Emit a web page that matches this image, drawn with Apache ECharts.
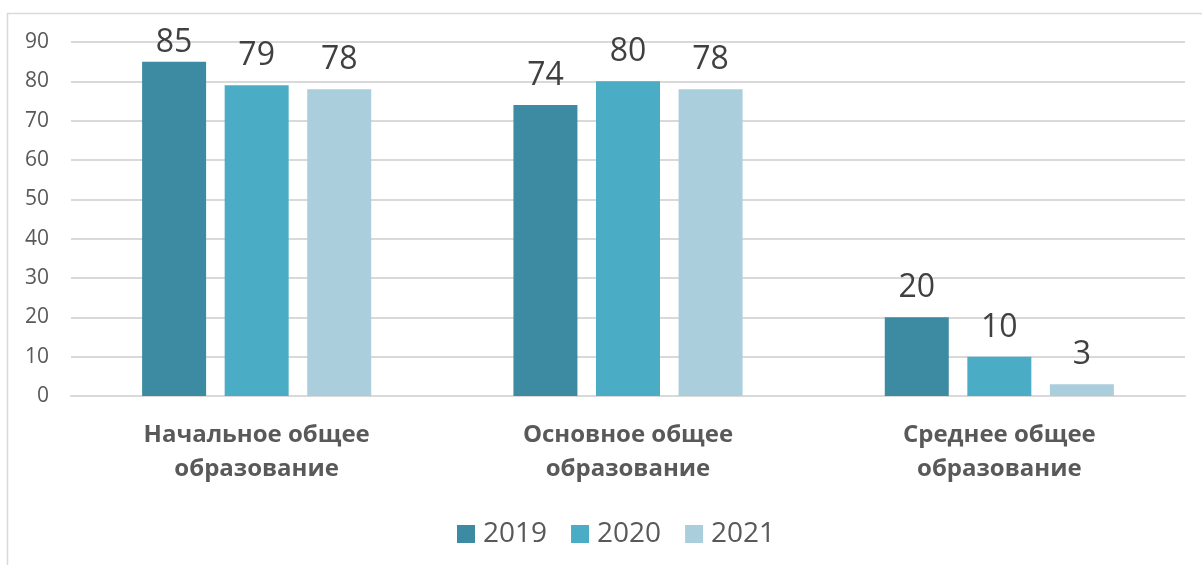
<!DOCTYPE html>
<html>
<head>
<meta charset="utf-8">
<script src="https://cdn.jsdelivr.net/npm/echarts@6/dist/echarts.min.js"></script>
<style>
    html, body { margin: 0; padding: 0; background: #fff; }
    #chart { width: 1202px; height: 565px; }
</style>
</head>
<body>
<div id="chart"></div>
<script>
// chart data
const categories = ['Начальное общее\nобразование', 'Основное общее\nобразование', 'Среднее общее\nобразование'];
const years = ['2019', '2020', '2021'];
const values2019 = [85, 74, 20];
const values2020 = [79, 80, 10];
const values2021 = [78, 78, 3];
const colors = ['#3C8BA3', '#4BACC6', '#AACEDC'];

const font = 'Open Sans';

let chart = echarts.init(document.getElementById('chart'));

// labels near the top of the plot are pulled down so they stay inside the chart
function toItems(data) {
    return data.map(function (v) {
        return v > 82 ? { value: v, label: { distance: 3 } } : v;
    });
}

function makeSeries(name, data, color) {
    return {
        name: name,
        type: 'bar',
        data: toItems(data),
        barWidth: 64,
        barGap: '29%',
        itemStyle: { color: color },
        label: {
            show: true,
            position: 'top',
            distance: 13,
            color: '#404040',
            fontFamily: font,
            fontSize: 32
        }
    };
}

const option = {
    animation: false,
    color: colors,
    graphic: [{
        type: 'rect',
        shape: { x: 7.5, y: 13.5, width: 1300, height: 700 },
        style: { fill: 'none', stroke: '#d9d9d9', lineWidth: 1.5 },
        silent: true,
        z: -1
    }],
    grid: { left: 71, right: 17, top: 42, bottom: 169 },
    legend: {
        bottom: 12,
        left: 452,
        itemWidth: 18,
        itemHeight: 18,
        itemGap: 24,
        icon: 'rect',
        textStyle: { color: '#595959', fontFamily: font, fontSize: 28, padding: [0, 0, 0, 3] },
        data: years
    },
    xAxis: {
        type: 'category',
        data: categories,
        axisLine: { lineStyle: { color: '#d9d9d9', width: 2 } },
        axisTick: { show: false },
        axisLabel: {
            color: '#595959',
            fontFamily: font,
            fontWeight: 'bold',
            fontSize: 24,
            lineHeight: 34,
            margin: 22
        }
    },
    yAxis: {
        type: 'value',
        min: 0,
        max: 90,
        interval: 10,
        axisLine: { show: false },
        axisTick: { show: false },
        splitLine: { lineStyle: { color: '#d9d9d9', width: 2 } },
        axisLabel: { color: '#595959', fontFamily: font, fontSize: 21, margin: 22 }
    },
    series: [
        makeSeries(years[0], values2019, colors[0]),
        makeSeries(years[1], values2020, colors[1]),
        makeSeries(years[2], values2021, colors[2])
    ]
};

chart.setOption(option);
</script>
</body>
</html>
